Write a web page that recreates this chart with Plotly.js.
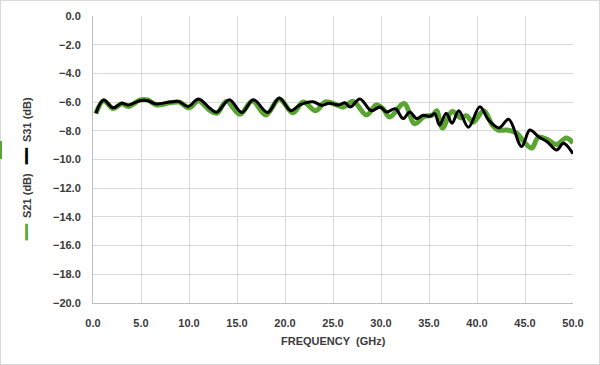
<!DOCTYPE html>
<html>
<head>
<meta charset="utf-8">
<script src="https://cdn.plot.ly/plotly-3.0.1.min.js"></script>
<style>
  html, body { margin: 0; padding: 0; background: #fff; }
  #wrap { position: relative; width: 600px; height: 365px; }
  #chart { position: absolute; left: 0; top: 0; width: 600px; height: 365px; }
  #frame { position: absolute; left: 0; top: 0; width: 600px; height: 365px; box-sizing: border-box; border: 1px solid #d9d9d9; pointer-events: none; }
  #stub { position: absolute; left: 0; top: 141px; width: 2px; height: 18px; background: #5aa532; }
</style>
</head>
<body>
<div id="wrap">
  <div id="chart"></div>
  <div id="frame"></div>
  <div id="stub"></div>
</div>
<script>
// S21 (green)
const s21Freq = [0.3, 1.1, 2.1, 3.0, 3.7, 4.9, 5.7, 6.6, 8.0, 9.0, 10.0, 11.0, 12.1, 12.9, 13.9, 15.3, 16.6, 18.0, 19.4, 20.8, 21.9, 23.2, 24.2, 25.2, 26.1, 27.1, 28.5, 29.5, 30.2, 30.9, 32.4, 33.5, 34.5, 35.4, 35.8, 36.4, 37.4, 38.3, 38.9, 39.6, 40.7, 41.6, 42.2, 43.1, 44.1, 45.0, 45.7, 46.4, 47.3, 48.3, 49.3, 50.0];
const s21dB   = [-6.8, -5.9, -6.45, -6.12, -6.3, -5.85, -5.85, -6.2, -6.05, -6.0, -6.4, -5.9, -6.55, -6.78, -5.95, -6.85, -5.92, -6.9, -5.78, -6.75, -6.0, -6.6, -5.98, -6.15, -6.35, -5.95, -6.9, -6.2, -6.45, -7.04, -6.1, -7.5, -7.0, -6.9, -6.6, -7.8, -6.65, -7.1, -6.95, -7.4, -6.6, -7.6, -7.95, -7.95, -8.15, -8.85, -9.2, -8.45, -8.6, -8.95, -8.5, -8.85];

// S31 (black)
const s31Freq = [0.3, 1.1, 2.1, 3.0, 3.7, 4.9, 5.7, 6.5, 8.0, 8.9, 9.9, 11.0, 12.2, 12.9, 14.2, 15.5, 16.7, 18.2, 19.4, 20.6, 21.6, 22.9, 23.8, 24.6, 25.6, 26.25, 26.8, 27.8, 29.0, 29.9, 30.6, 31.5, 32.3, 33.0, 33.7, 34.4, 35.1, 35.6, 36.1, 36.8, 37.4, 38.1, 39.1, 40.3, 41.2, 42.3, 43.3, 44.65, 45.5, 46.4, 47.3, 48.3, 49.0, 50.0];
const s31dB   = [-6.78, -5.85, -6.4, -6.08, -6.2, -5.9, -5.9, -6.12, -6.0, -5.95, -6.3, -5.78, -6.45, -6.7, -5.83, -6.72, -5.83, -6.72, -5.72, -6.6, -6.18, -5.98, -6.22, -6.08, -6.2, -6.05, -6.35, -5.78, -6.6, -6.34, -6.69, -6.46, -7.15, -6.69, -7.15, -6.92, -6.99, -6.8, -7.6, -6.78, -7.48, -6.6, -7.75, -6.32, -7.25, -7.8, -7.2, -9.1, -7.94, -8.41, -8.76, -9.34, -8.87, -9.6];

const xTicks = [0, 5, 10, 15, 20, 25, 30, 35, 40, 45, 50];
const yTicks = [0, -2, -4, -6, -8, -10, -12, -14, -16, -18, -20];

const GREEN = '#5aa532';
const TXT = '#3a3a3a';
const FONT = 'Liberation Sans, Arial, sans-serif';

const traces = [
  { x: s21Freq, y: s21dB, mode: 'lines', name: 'S21 (dB)',
    line: { color: GREEN, width: 5, shape: 'spline', smoothing: 1 } },
  { x: s31Freq, y: s31dB, mode: 'lines', name: 'S31 (dB)',
    line: { color: '#000000', width: 3, shape: 'spline', smoothing: 1 } }
];

const dash = (c) => '<span style="color:' + c + ';font-size:13px">━━</span>';

const layout = {
  width: 600, height: 365,
  margin: { l: 93, r: 27, t: 16, b: 62 },
  paper_bgcolor: '#ffffff', plot_bgcolor: '#ffffff',
  showlegend: false,
  font: { family: FONT, size: 11, color: TXT, weight: 'bold' },
  xaxis: {
    range: [0, 50], tickvals: xTicks, tickformat: '.1f',
    showgrid: true, gridcolor: '#d9d9d9', gridwidth: 1,
    showline: true, linecolor: '#bfbfbf', linewidth: 1,
    zeroline: false, ticks: '', ticklabelstandoff: 10,
    tickfont: { family: FONT, size: 11, color: TXT, weight: 'bold' },
    fixedrange: true
  },
  yaxis: {
    range: [-20, 0], tickvals: yTicks, tickformat: '.1f',
    showgrid: true, gridcolor: '#d9d9d9', gridwidth: 1,
    showline: true, linecolor: '#bfbfbf', linewidth: 1,
    zeroline: false, ticks: '', ticklabelstandoff: 9,
    tickfont: { family: FONT, size: 11, color: TXT, weight: 'bold' },
    fixedrange: true
  },
  annotations: [
    { text: 'FREQUENCY  (GHz)', xref: 'paper', yref: 'paper',
      x: 0.5, y: -38 / 287, xanchor: 'center', yanchor: 'middle', showarrow: false,
      font: { family: FONT, size: 11, color: TXT, weight: 'bold' } },
    { text: dash(GREEN) + '  S21 (dB)   ' + dash('#000') + '  S31 (dB)',
      xref: 'paper', yref: 'paper', x: (26 - 93) / 480, y: (303 - 169) / 287,
      xanchor: 'center', yanchor: 'middle', textangle: -90, showarrow: false,
      font: { family: FONT, size: 11, color: TXT, weight: 'bold' } }
  ]
};

Plotly.newPlot('chart', traces, layout, { displayModeBar: false, staticPlot: true });
</script>
</body>
</html>
